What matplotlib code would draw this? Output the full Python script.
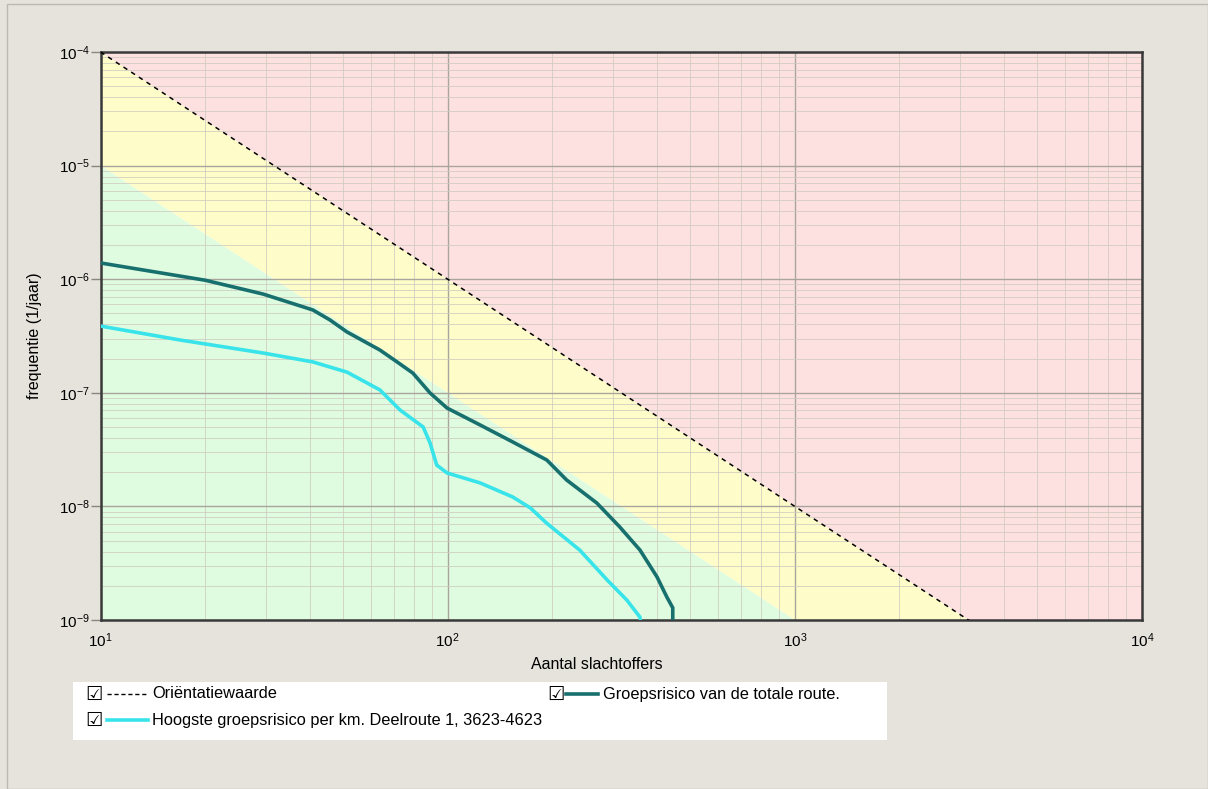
import math
import matplotlib as mpl
mpl.use('Agg')
import matplotlib.pyplot as plt
from matplotlib.lines import Line2D
from matplotlib.patches import Rectangle
from matplotlib.ticker import FixedLocator, FuncFormatter, LogLocator, NullFormatter

# --- data ---
# orientation value (norm line) and the band one decade below it
region_N = [10, 10000]
orient_f = [1e-4, 1e-10]
band_f = [1e-5, 1e-11]

# Groepsrisico van de totale route.
total_N = [10, 20, 29.4, 40.9, 45.8, 51.3, 63.8, 71.5, 79.4, 89, 99.6, 124, 154, 193,
           220, 269, 313, 358, 401, 428, 445, 445]
total_f = [1.39e-6, 9.8e-7, 7.4e-7, 5.36e-7, 4.38e-7, 3.43e-7, 2.38e-7, 1.87e-7, 1.49e-7,
           9.96e-8, 7.34e-8, 5.21e-8, 3.69e-8, 2.56e-8, 1.71e-8, 1.07e-8, 6.6e-9, 4.13e-9,
           2.39e-9, 1.59e-9, 1.28e-9, 8e-10]

# Hoogste groepsrisico per km. Deelroute 1, 3623-4623
hoogste_N = [10, 16.9, 29.4, 40.9, 51.3, 63.8, 72.9, 85, 89, 93, 99.6, 124, 154, 173, 193,
             240, 288, 328, 358, 362]
hoogste_f = [3.87e-7, 2.92e-7, 2.24e-7, 1.87e-7, 1.52e-7, 1.06e-7, 7.06e-8, 5.0e-8, 3.61e-8,
             2.31e-8, 1.97e-8, 1.61e-8, 1.21e-8, 9.7e-9, 7.1e-9, 4.13e-9, 2.25e-9, 1.5e-9,
             1.06e-9, 8e-10]

x_ticks = [10, 100, 1000, 10000]
y_ticks = [1e-9, 1e-8, 1e-7, 1e-6, 1e-5, 1e-4]

legend_labels = ['Oriëntatiewaarde',
                 'Groepsrisico van de totale route.',
                 'Hoogste groepsrisico per km. Deelroute 1, 3623-4623']

BG = '#e6e3dc'
C_RED = '#fde1e1'
C_YELLOW = '#fefdc9'
C_GREEN = '#e0fce0'
C_TOTAL = '#18706e'
C_HOOGSTE = '#38e4ea'

plt.rcParams['font.family'] = ['Liberation Sans', 'DejaVu Sans']

W, H = 1208, 789
fig = plt.figure(figsize=(W / 100, H / 100), dpi=100, facecolor=BG)

# thin panel border
fig.add_artist(Rectangle((7 / W, 0), 1 - 7 / W, 1 - 4 / H, transform=fig.transFigure,
                         fill=False, edgecolor='#bdb9b0', lw=1))

ax = fig.add_axes([100.5 / W, 1 - 620 / H, (1142 - 100.5) / W, (620 - 52) / H])
ax.set_xscale('log')
ax.set_yscale('log')
ax.set_xlim(10, 10000)
ax.set_ylim(1e-9, 1e-4)

# coloured risk regions
ax.fill_between(region_N, orient_f, [1e-2, 1e-2], color=C_RED, lw=0, zorder=0.1)
ax.fill_between(region_N, band_f, orient_f, color=C_YELLOW, lw=0, zorder=0.1)
ax.fill_between(region_N, [1e-12, 1e-12], band_f, color=C_GREEN, lw=0, zorder=0.1)

ax.set_axisbelow(True)
ax.grid(which='major', color='#a9a59c', lw=1.0)
ax.grid(which='minor', color='#cfcbc0', lw=0.7, alpha=0.8)

ax.plot(region_N, orient_f, color='black', lw=1.1, ls=(0, (3, 3)), zorder=3)
ax.plot(total_N, total_f, color=C_TOTAL, lw=2.6, zorder=4, solid_joinstyle='miter')
ax.plot(hoogste_N, hoogste_f, color=C_HOOGSTE, lw=2.6, zorder=4, solid_joinstyle='miter')

for s in ax.spines.values():
    s.set_color('#3a3a3a')
    s.set_linewidth(1.8)

ax.xaxis.set_major_locator(FixedLocator(x_ticks))
ax.yaxis.set_major_locator(FixedLocator(y_ticks))
ax.xaxis.set_minor_locator(LogLocator(base=10, subs=range(2, 10)))
ax.yaxis.set_minor_locator(LogLocator(base=10, subs=range(2, 10)))
ax.xaxis.set_minor_formatter(NullFormatter())
ax.yaxis.set_minor_formatter(NullFormatter())
exp_fmt = FuncFormatter(lambda v, p: r'$\mathregular{10^{%d}}$' % round(math.log10(v)))
ax.xaxis.set_major_formatter(exp_fmt)
ax.yaxis.set_major_formatter(exp_fmt)
ax.tick_params(axis='x', which='both', length=0, pad=8, labelsize=11)
ax.tick_params(axis='y', which='major', length=7, width=1, color='#8a877f', pad=1, labelsize=11)
ax.tick_params(axis='y', which='minor', length=0)

ax.set_xlabel('Aantal slachtoffers', fontsize=11.5)
ax.xaxis.set_label_coords((597 - 100.5) / 1041.5, -(657 - 620) / 568)
ax.set_ylabel('frequentie (1/jaar)', fontsize=11.5, labelpad=12)

# legend panel with check boxes
fig.add_artist(Rectangle((73 / W, 1 - 740 / H), (887 - 73) / W, (740 - 682) / H,
                         transform=fig.transFigure, facecolor='white', edgecolor='none'))
# (checkbox x, row y, sample start, sample end, text x, style, label)
rows = [(85, 694, 107, 148, 152, 'dash', legend_labels[0]),
        (547, 694, 566, 598, 603, C_TOTAL, legend_labels[1]),
        (85, 720, 107, 148, 152, C_HOOGSTE, legend_labels[2])]
for cx, y0, sx0, sx1, tx, style, text in rows:
    yf = 1 - y0 / H
    fig.text(cx / W, yf, '☑', family='DejaVu Sans', fontsize=14,
             va='center', ha='left')
    if style == 'dash':
        fig.add_artist(Line2D([sx0 / W, sx1 / W], [yf, yf], transform=fig.transFigure,
                              color='black', lw=1, ls=(0, (3, 2))))
    else:
        fig.add_artist(Line2D([sx0 / W, sx1 / W], [yf, yf], transform=fig.transFigure,
                              color=style, lw=2.6))
    fig.text(tx / W, yf, text, fontsize=11.8, va='center', ha='left')

fig.savefig('out.png', dpi=100, facecolor=BG)
